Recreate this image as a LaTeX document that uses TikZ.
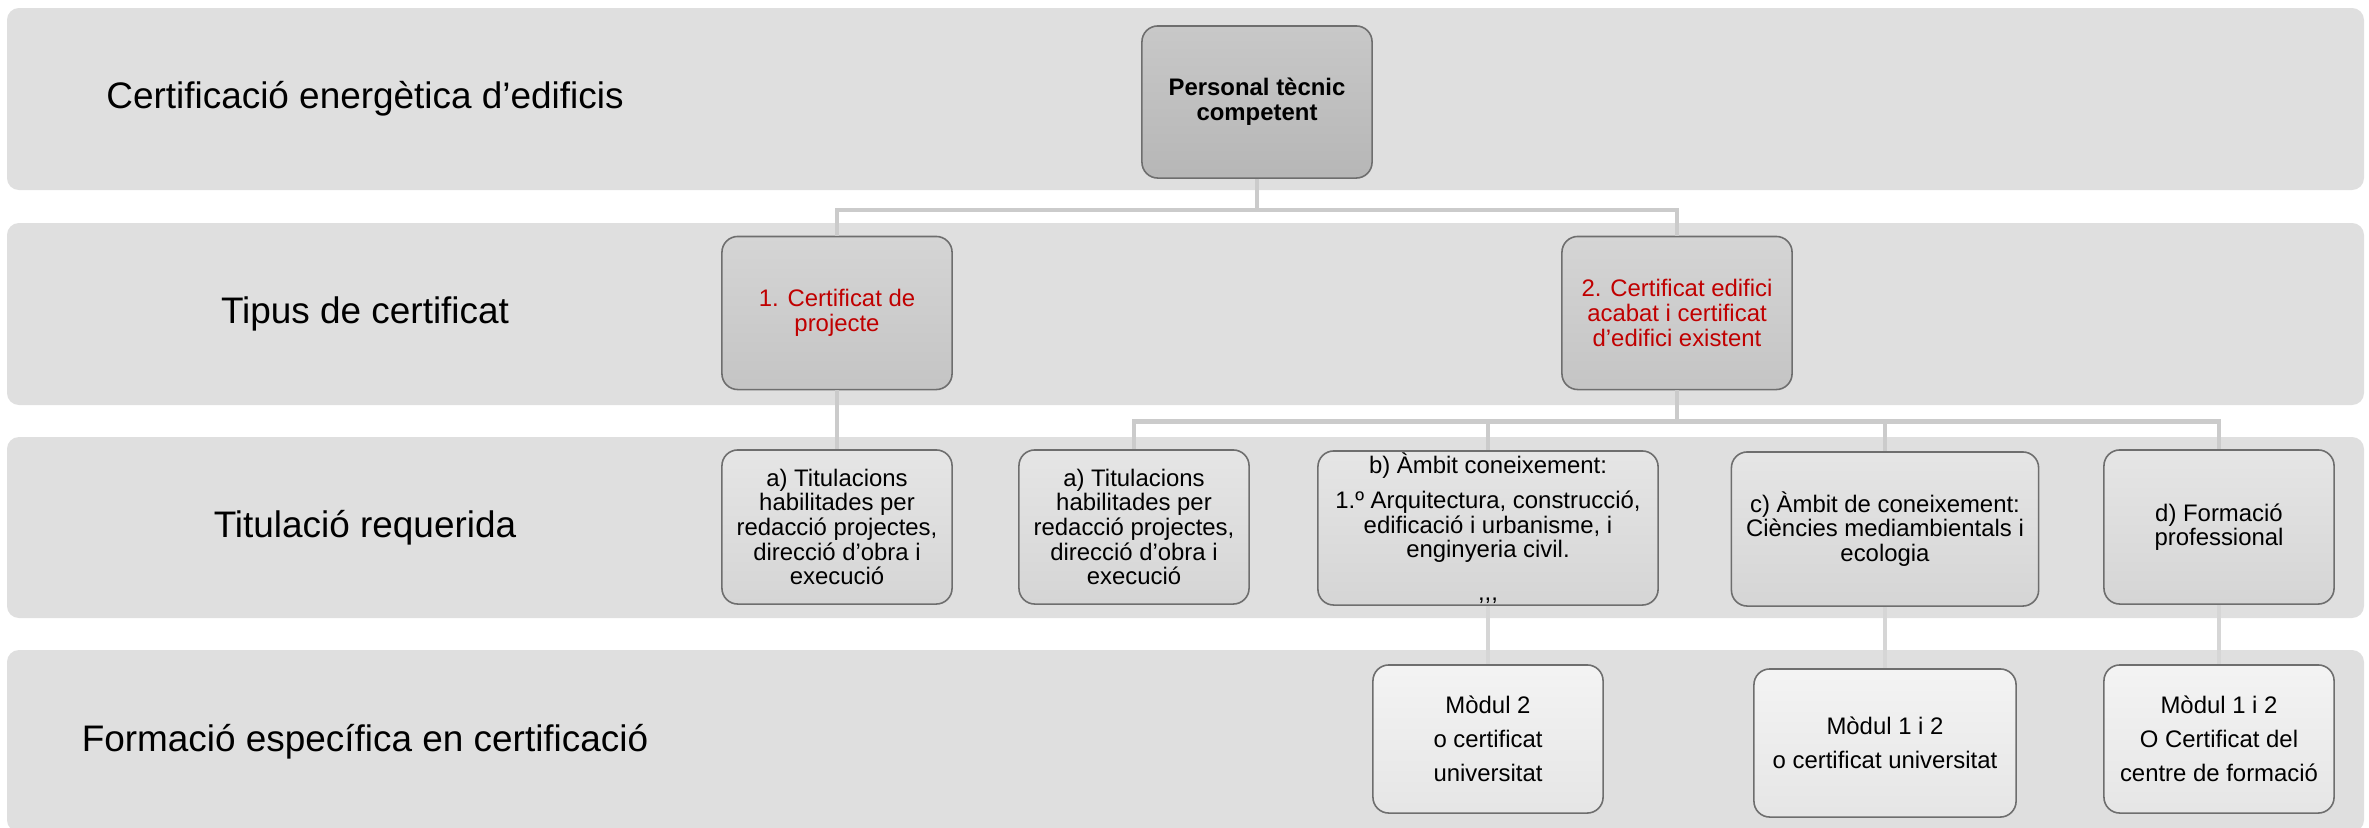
\documentclass[tikz,border=0pt]{standalone}
\usepackage{fontspec}
\setmainfont{Liberation Sans}
\usetikzlibrary{positioning}

\definecolor{bandgray}{HTML}{DFDFDF}
\definecolor{boxline}{HTML}{6E6E6E}
\definecolor{linkgray}{HTML}{CBCBCB}
\definecolor{sublinkgray}{HTML}{D6D6D6}
\definecolor{certred}{HTML}{C00000}

\tikzset{
	band/.style={fill=bandgray, rounded corners=3.4pt},
	bandlabel/.style={font=\fontsize{10.5pt}{12pt}\selectfont, inner sep=0pt},
	boxbase/.style={draw=boxline, line width=0.45pt, rounded corners=4.5pt, align=center,
		inner sep=0pt, minimum width=2.3cm, font=\fontsize{6.8pt}{7pt}\selectfont},
	staffbox/.style={boxbase, top color=gray!43, bottom color=gray!57, minimum height=1.52cm,
		font=\fontsize{6.8pt}{7pt}\selectfont\bfseries},
	certbox/.style={boxbase, top color=gray!33, bottom color=gray!46, minimum height=1.53cm, text=certred},
	titlebox/.style={boxbase, top color=gray!20, bottom color=gray!33, minimum height=1.54cm},
	modbox/.style={boxbase, top color=gray!9, bottom color=gray!20, minimum height=1.48cm,
		font=\fontsize{6.8pt}{9.6pt}\selectfont},
	link/.style={draw=linkgray, line width=1.3pt},
	sublink/.style={draw=sublinkgray, line width=1.1pt}
}

\begin{document}
\begin{tikzpicture}[x=0.01cm, y=-0.01cm]
	\useasboundingbox (0,0) rectangle (2369,827);
	
	%bands
	\fill[band] (7,8)    rectangle (2364,190);
	\fill[band] (7,223)  rectangle (2364,405);
	\fill[band] (7,437)  rectangle (2364,618);
	\fill[band] (7,650)  rectangle (2364,832);
	
	%band labels
	\node[bandlabel] (lblenergy) at (365,99)  {Certificació energètica d’edificis};
	\node[bandlabel] (lbltype)   at (365,314) {Tipus de certificat};
	\node[bandlabel] (lbldegree) at (365,528) {Titulació requerida};
	\node[bandlabel] (lbltrain)  at (365,742) {Formació específica en certificació};
	
	%row 1
	\node[staffbox] (staff) at (1257,102) {Personal tècnic\\competent};
	
	%row 2
	\node[certbox] (certproj)  at (837,313)  {1. Certificat de\\projecte};
	\node[certbox] (certexist) at (1677,313) {2. Certificat edifici\\acabat i certificat\\d’edifici existent};
	
	%row 3
	\node[titlebox] (titA)    at (837,527)  {a) Titulacions\\habilitades per\\redacció projectes,\\direcció d’obra i\\execució};
	\node[titlebox] (titAbis) at (1134,527) {a) Titulacions\\habilitades per\\redacció projectes,\\direcció d’obra i\\execució};
	\node[titlebox, minimum width=3.4cm] (titB) at (1488,528)
		{b) Àmbit coneixement:\\[3pt]1.º Arquitectura, construcció,\\edificació i urbanisme, i\\enginyeria civil.\\[5pt],{},{},};
	\node[titlebox, minimum width=3.07cm] (titC) at (1885,529)
		{c) Àmbit de coneixement:\\Ciències mediambientals i\\ecologia};
	\node[titlebox] (titD) at (2219,527) {d) Formació\\professional};
	
	%row 4
	\node[modbox] (modB) at (1488,739) {Mòdul 2\\o certificat\\universitat};
	\node[modbox, minimum width=2.62cm] (modC) at (1885,743) {Mòdul 1 i 2\\o certificat universitat};
	\node[modbox] (modD) at (2219,739) {Mòdul 1 i 2\\O Certificat del\\centre de formació};
	
		%links
		\draw[link] (staff.south) -- ++(0,31) -| (certproj.north);
		\draw[link] (staff.south) -- ++(0,31) -| (certexist.north);
		\draw[link] (certproj.south) -- (titA.north);
		\foreach \t in {titAbis,titB,titC,titD}
			\draw[link] (certexist.south) -- ++(0,31) -| (\t.north);
		\foreach \s/\t in {titB/modB,titC/modC,titD/modD}
			\draw[sublink] (\s.south) -- (\t.north);
\end{tikzpicture}
\end{document}
